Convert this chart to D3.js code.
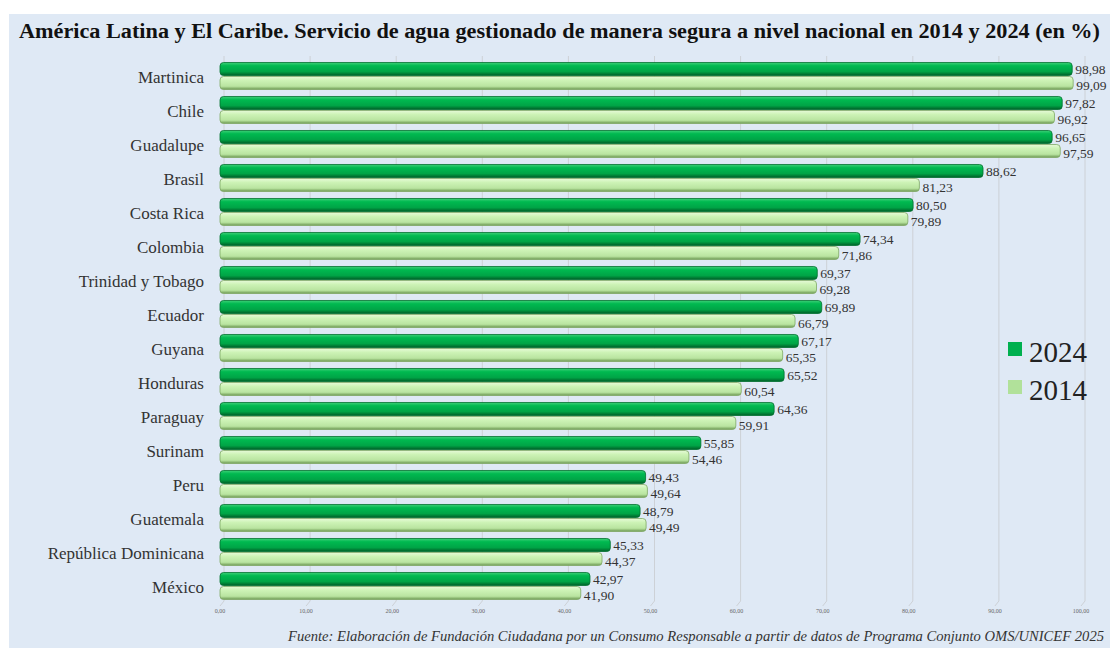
<!DOCTYPE html>
<html>
<head>
    <meta charset="UTF-8">
    <title>Servicio de agua gestionado de manera segura</title>
    <script src="https://d3js.org/d3.v7.min.js"></script>
    <style>
        body {
            margin: 0;
            background: #fff;
        }

        .grid {
            stroke: #cdd1d6;
            stroke-width: 1;
            fill: none;
        }
    </style>
</head>
<body>
    <div id="chart"></div>
    <script>
        const countries = ["Martinica", "Chile", "Guadalupe", "Brasil", "Costa Rica", "Colombia",
            "Trinidad y Tobago", "Ecuador", "Guyana", "Honduras", "Paraguay", "Surinam",
            "Peru", "Guatemala", "República Dominicana", "México"];
        const values2024 = [98.98, 97.82, 96.65, 88.62, 80.50, 74.34, 69.37, 69.89, 67.17, 65.52,
            64.36, 55.85, 49.43, 48.79, 45.33, 42.97];
        const values2014 = [99.09, 96.92, 97.59, 81.23, 79.89, 71.86, 69.28, 66.79, 65.35, 60.54,
            59.91, 54.46, 49.64, 49.49, 44.37, 41.90];
        const series = ["2024", "2014"];
        const ticks = [0, 10, 20, 30, 40, 50, 60, 70, 80, 90, 100];

        const W = 1110, H = 648;
        const SERIF = '"Liberation Serif", "Times New Roman", serif';
        const fmt = v => d3.format(".2f")(v).replace(".", ",");

        const data = countries.map((c, i) => ({
            country: c,
            vals: [
                { key: "2024", value: values2024[i] },
                { key: "2014", value: values2014[i] }
            ]
        }));

        const svg = d3.select("#chart").append("svg")
            .attr("width", W)
            .attr("height", H)
            .style("font-family", SERIF);

        // panel background
        svg.append("rect")
            .attr("x", 9).attr("y", 14)
            .attr("width", W - 9).attr("height", H - 14)
            .attr("fill", "#dfe9f5");

        // gradients for the cylinder look
        const defs = svg.append("defs");
        const grads = {
            "2024": [["0%", "#3fd078"], ["25%", "#00b950"], ["70%", "#00a446"], ["100%", "#005f27"]],
            "2014": [["0%", "#e6fad8"], ["30%", "#cdf3b6"], ["75%", "#b9e4a0"], ["100%", "#6c9852"]]
        };
        Object.entries(grads).forEach(([k, stops]) => {
            defs.append("linearGradient")
                .attr("id", "g" + k)
                .attr("x1", 0).attr("x2", 0).attr("y1", 0).attr("y2", 1)
                .selectAll("stop")
                .data(stops)
                .enter().append("stop")
                .attr("offset", d => d[0])
                .attr("stop-color", d => d[1]);
        });

        const x = d3.scaleLinear().domain([0, 100]).range([220, 1081]);

        const y = d3.scaleBand()
            .domain(countries)
            .range([59, 603])
            .paddingInner(0.176)
            .paddingOuter(0.088);

        const ySub = d3.scaleBand()
            .domain(series)
            .range([0, y.bandwidth()]);

        // grid lines (3D back wall + floor edge)
        const gridTop = 56, gridBottom = 601;
        svg.append("g")
            .selectAll("path")
            .data(ticks)
            .enter().append("path")
            .attr("class", "grid")
            .attr("d", d => `M${x(d) + 4},${gridTop} L${x(d) + 4},${gridBottom} L${x(d)},${gridBottom + 5}`);

        // tick labels
        svg.append("g")
            .selectAll("text")
            .data(ticks)
            .enter().append("text")
            .attr("font-size", 6)
            .attr("fill", "#666")
            .attr("x", d => x(d))
            .attr("y", 613)
            .attr("text-anchor", "middle")
            .text(d => fmt(d));

        // country labels
        svg.append("g")
            .selectAll("text")
            .data(countries)
            .enter().append("text")
            .attr("font-size", 17)
            .attr("fill", "#333")
            .attr("x", 204)
            .attr("y", d => y(d) + y.bandwidth() / 2 + 7)
            .attr("text-anchor", "end")
            .text(d => d);

        // bars
        const groups = svg.append("g")
            .selectAll("g")
            .data(data)
            .enter().append("g")
            .attr("transform", d => `translate(0,${y(d.country)})`);

        groups.selectAll("rect")
            .data(d => d.vals)
            .enter().append("rect")
            .attr("x", x(0))
            .attr("y", d => ySub(d.key) + 0.5)
            .attr("width", d => x(d.value) - x(0))
            .attr("height", ySub.bandwidth() - 1)
            .attr("rx", 3.5)
            .attr("fill", d => `url(#g${d.key})`)
            .attr("stroke", d => d.key === "2024" ? "#00702e" : "#7fa865")
            .attr("stroke-width", 0.8);

        // value labels
        groups.selectAll("text")
            .data(d => d.vals)
            .enter().append("text")
            .attr("font-size", 13.5)
            .attr("fill", "#333")
            .attr("x", d => x(d.value) + 3)
            .attr("y", d => ySub(d.key) + ySub.bandwidth() / 2 + (d.key === "2024" ? 5 : 7))
            .text(d => fmt(d.value));

        // title
        svg.append("text")
            .attr("x", 19)
            .attr("y", 38)
            .attr("font-size", 20)
            .attr("font-weight", "bold")
            .attr("fill", "#111")
            .attr("textLength", 1081)
            .attr("lengthAdjust", "spacingAndGlyphs")
            .text("América Latina y El Caribe. Servicio de agua gestionado de manera segura a nivel nacional en 2014 y 2024 (en %)");

        // legend
        const legendColors = { "2024": "#00b04f", "2014": "#b1e19a" };
        const legend = svg.append("g")
            .selectAll("g")
            .data(series)
            .enter().append("g")
            .attr("transform", (d, i) => `translate(1008,${342 + i * 38})`);

        legend.append("rect")
            .attr("width", 14).attr("height", 14)
            .attr("fill", d => legendColors[d]);

        legend.append("text")
            .attr("x", 21)
            .attr("y", 20)
            .attr("font-size", 29)
            .attr("fill", "#222")
            .text(d => d);

        // source
        svg.append("text")
            .attr("x", 288)
            .attr("y", 641)
            .attr("font-size", 14.5)
            .attr("font-style", "italic")
            .attr("fill", "#333")
            .attr("textLength", 816)
            .attr("lengthAdjust", "spacingAndGlyphs")
            .text("Fuente: Elaboración de Fundación Ciudadana por un Consumo Responsable a partir de datos de Programa Conjunto OMS/UNICEF 2025");
    </script>
</body>
</html>
